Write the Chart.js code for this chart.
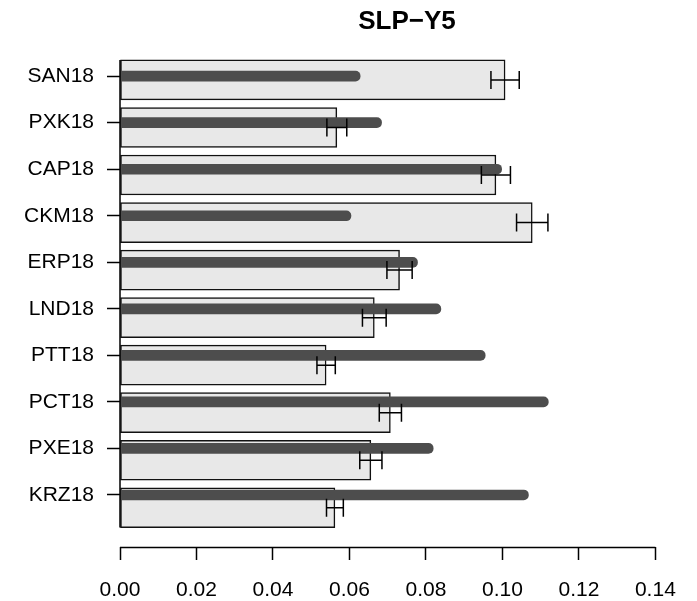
<!DOCTYPE html>
<html>
<head>
<meta charset="utf-8">
<title>SLP-Y5</title>
<script src="https://cdn.jsdelivr.net/npm/chart.js@4/dist/chart.umd.min.js"></script>
<style>
  html, body { margin: 0; padding: 0; background: #fff; }
  canvas { display: block; }
</style>
</head>
<body>
<canvas id="slpChart" width="697" height="601"></canvas>
<script>
const sites = ['SAN18', 'PXK18', 'CAP18', 'CKM18', 'ERP18', 'LND18', 'PTT18', 'PCT18', 'PXE18', 'KRZ18'];
// grey bars with their error half-widths
const meanRate = [0.1007, 0.0567, 0.0983, 0.1078, 0.0731, 0.0665, 0.0539, 0.0707, 0.0656, 0.0562];
const rateErr = [0.0037, 0.0026, 0.0038, 0.0041, 0.0033, 0.0031, 0.0024, 0.0029, 0.0029, 0.0022];
// dark overlay lines
const refRate = [0.0628, 0.0684, 0.0998, 0.0604, 0.0778, 0.0839, 0.0955, 0.1120, 0.0819, 0.1068];
const xTicks = [0, 0.02, 0.04, 0.06, 0.08, 0.10, 0.12, 0.14];

// barplot-style layout on the index axis: width 1, space 0.2
const barPos = i => 0.7 + 1.2 * i;
const refPos = i => 0.605 + 1.1746 * i;
const CAP = 9;
const LW = 1.5;

Chart.defaults.font.family = '"Liberation Sans", Arial, Helvetica, sans-serif';
Chart.defaults.color = '#000';

const rAxes = {
    id: 'rAxes',
    afterDatasetsDraw(chart) {
        const { ctx, chartArea } = chart;
        const x = chart.scales.x;
        const y = chart.scales.y;
        ctx.save();
        ctx.strokeStyle = '#000';
        ctx.lineWidth = LW;
        // error bars
        meanRate.forEach((v, i) => {
            const yc = y.getPixelForValue(barPos(i));
            const x1 = x.getPixelForValue(v - rateErr[i]);
            const x2 = x.getPixelForValue(v + rateErr[i]);
            ctx.beginPath();
            ctx.moveTo(x1, yc); ctx.lineTo(x2, yc);
            ctx.moveTo(x1, yc - CAP); ctx.lineTo(x1, yc + CAP);
            ctx.moveTo(x2, yc - CAP); ctx.lineTo(x2, yc + CAP);
            ctx.stroke();
        });
        // axis lines
        const x0 = x.getPixelForValue(0);
        ctx.beginPath();
        ctx.moveTo(x0, y.getPixelForValue(barPos(0) - 0.5));
        ctx.lineTo(x0, y.getPixelForValue(barPos(sites.length - 1) + 0.5));
        const yb = Math.round(chartArea.bottom) + 0.5;
        ctx.moveTo(x0, yb);
        ctx.lineTo(x.getPixelForValue(xTicks[xTicks.length - 1]), yb);
        ctx.stroke();
        ctx.restore();
    }
};

new Chart(document.getElementById('slpChart'), {
    type: 'bar',
    data: {
        datasets: [{
            label: 'reference',
            data: refRate.map((v, i) => ({ x: v, y: refPos(i) })),
            backgroundColor: '#4d4d4d',
            barThickness: 10,
            borderRadius: 5,
            borderSkipped: 'start',
            grouped: false,
            order: 0
        }, {
            label: 'mean',
            data: meanRate.map((v, i) => ({ x: v, y: barPos(i) })),
            backgroundColor: '#e8e8e8',
            borderColor: '#111',
            borderWidth: LW,
            borderSkipped: false,
            barThickness: 40,
            grouped: false,
            order: 1
        }]
    },
    options: {
        indexAxis: 'y',
        responsive: false,
        animation: false,
        layout: { padding: { left: 0, right: 3, top: 0, bottom: 0 } },
        plugins: {
            legend: { display: false },
            tooltip: { enabled: false },
            title: {
                display: true,
                text: 'SLP\u2212Y5',
                fullSize: false,
                color: '#000',
                font: { size: 26, weight: 'bold' },
                padding: { top: 6, bottom: 15 }
            }
        },
        scales: {
            x: {
                type: 'linear',
                min: 0,
                max: 0.1501,
                afterBuildTicks: s => { s.ticks = xTicks.map(v => ({ value: v })); },
                afterFit: s => { s.height = 54; },
                ticks: {
                    callback: v => v.toFixed(2),
                    font: { size: 21 },
                    color: '#000',
                    padding: 18,
                    maxRotation: 0,
                    autoSkip: false
                },
                grid: { drawOnChartArea: false, drawTicks: true, tickLength: 13, tickColor: '#000', tickWidth: LW },
                border: { display: false }
            },
            y: {
                type: 'linear',
                reverse: true,
                offset: false,
                min: 0,
                max: 12.49,
                afterBuildTicks: s => { s.ticks = sites.map((_, i) => ({ value: refPos(i) })); },
                afterFit: s => { s.width = 120; },
                ticks: {
                    callback: (v, i) => sites[i],
                    font: { size: 21 },
                    color: '#000',
                    padding: 13,
                    autoSkip: false
                },
                grid: { offset: false, drawOnChartArea: false, drawTicks: true, tickLength: 13, tickColor: '#000', tickWidth: LW },
                border: { display: false }
            }
        }
    },
    plugins: [rAxes]
});
</script>
</body>
</html>
